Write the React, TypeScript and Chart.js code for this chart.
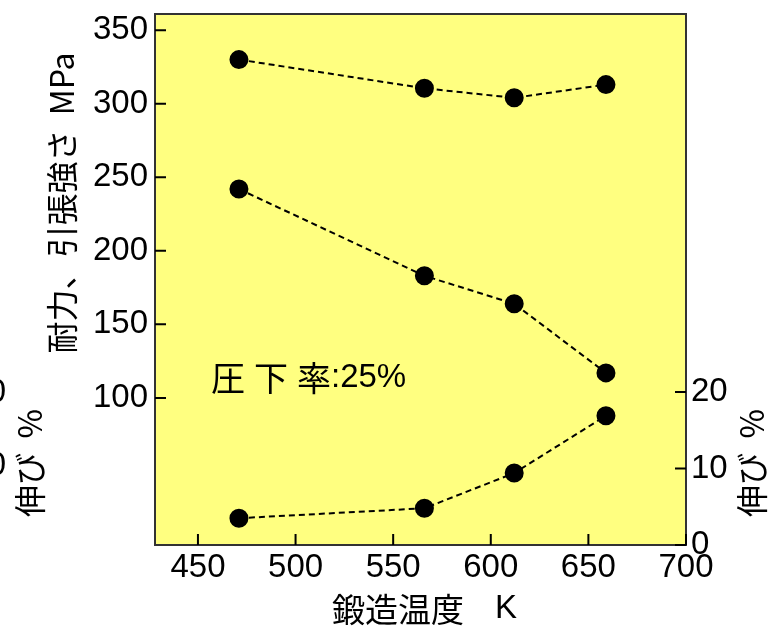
import React, { useEffect, useRef } from "react";
import { Chart, registerables } from "chart.js";

Chart.register(...registerables);

const temps = [471, 566, 612, 659];
const tensileStrength = [330, 310.5, 304, 313];
const proofStress = [242, 183, 164, 117];
const elongation = [3.5, 4.8, 9.4, 16.9];

const xTicks = [450, 500, 550, 600, 650, 700];
const leftTicks = [100, 150, 200, 250, 300, 350];
const rightTicks = [0, 10, 20];

const FONT = "'Liberation Sans', Arial, 'Noto Sans CJK JP', sans-serif";
const CJK = "'Noto Sans CJK JP', 'Liberation Sans', sans-serif";

const decor = {
  id: "decor",
  beforeDraw(chart: any) {
    const { ctx, chartArea: a } = chart;
    ctx.save();
    ctx.fillStyle = "#ffff80";
    ctx.fillRect(a.left, a.top, a.right - a.left, a.bottom - a.top);
    ctx.restore();
  },
  afterDraw(chart: any) {
    const { ctx, chartArea: a, scales } = chart;
    ctx.save();
    ctx.strokeStyle = "#333";
    ctx.lineWidth = 2;
    ctx.strokeRect(a.left, a.top, a.right - a.left, a.bottom - a.top);
    ctx.strokeStyle = "#000";
    ctx.lineWidth = 2;
    const tl = 11;
    ctx.beginPath();
    leftTicks.forEach((v) => {
      const y = scales.y.getPixelForValue(v);
      ctx.moveTo(a.left, y);
      ctx.lineTo(a.left + tl, y);
    });
    rightTicks.forEach((v) => {
      const y = scales.y2.getPixelForValue(v);
      ctx.moveTo(a.right, y);
      ctx.lineTo(a.right - tl, y);
    });
    xTicks.forEach((v) => {
      const x = scales.x.getPixelForValue(v);
      ctx.moveTo(x, a.bottom);
      ctx.lineTo(x, a.bottom - tl);
    });
    ctx.stroke();

    ctx.fillStyle = "#000";
    ctx.textBaseline = "middle";
    ctx.textAlign = "left";
    ctx.font = "34px " + CJK;
    (ctx as any).letterSpacing = "9px";
    ctx.fillText("圧下率", 211, 378);
    (ctx as any).letterSpacing = "0px";
    ctx.font = "33px " + FONT;
    ctx.fillText(":25%", 331, 378);

    ctx.font = "33px " + CJK;
    ctx.fillText("鍛造温度", 332, 609);
    ctx.font = "33px " + FONT;
    ctx.fillText("K", 495, 609);

    const rot = (txt: string, x: number, y: number) => {
      ctx.save();
      ctx.translate(x, y);
      ctx.rotate(-Math.PI / 2);
      ctx.textAlign = "center";
      ctx.textBaseline = "middle";
      ctx.fillText(txt, 0, 0);
      ctx.restore();
    };
    ctx.font = "32px " + CJK;
    rot("耐力、引張強さ  MPa", 62, 203);
    rot("伸び  %", 752, 463);
    rot("伸び  %", 30, 463);

    ctx.font = "33px " + FONT;
    ctx.textAlign = "right";
    ctx.fillText("20", 6, 393);
    ctx.fillText("10", 6, 466);
    ctx.restore();
  },
};

export default function App() {
  const ref = useRef<HTMLCanvasElement>(null);
  useEffect(() => {
    document.body.style.margin = "0";
    const tickFont = { family: FONT, size: 33 };
    const ds = (data: number[], axis: string) => ({
      data: temps.map((t, i) => ({ x: t, y: data[i] })),
      yAxisID: axis,
      borderColor: "#000",
      backgroundColor: "#000",
      borderWidth: 2,
      borderDash: [6, 4],
      pointRadius: 8.5,
      pointBackgroundColor: "#000",
      pointBorderColor: "#000",
      showLine: true,
      fill: false,
    });
    const chart = new Chart(ref.current!, {
      type: "scatter",
      data: {
        datasets: [
          ds(tensileStrength, "y"),
          ds(proofStress, "y"),
          ds(elongation, "y2"),
        ],
      },
      plugins: [decor],
      options: {
        animation: false,
        responsive: false,
        layout: { padding: { top: 14, left: 0, right: 0, bottom: 0 } },
        plugins: { legend: { display: false }, tooltip: { enabled: false } },
        scales: {
          x: {
            type: "linear",
            min: 428,
            max: 700,
            grid: { display: false, drawTicks: false },
            border: { display: false },
            ticks: { font: tickFont, color: "#000", padding: 3, maxRotation: 0 },
            afterBuildTicks: (s: any) => {
              s.ticks = xTicks.map((v) => ({ value: v }));
            },
            afterFit: (s: any) => {
              s.height = 82;
              s.paddingLeft = 0;
              s.paddingRight = 0;
            },
          },
          y: {
            type: "linear",
            position: "left",
            min: 0,
            max: 361,
            grid: { display: false, drawTicks: false },
            border: { display: false },
            ticks: { font: tickFont, color: "#000", padding: 7 },
            afterBuildTicks: (s: any) => {
              s.ticks = leftTicks.map((v) => ({ value: v }));
            },
            afterFit: (s: any) => {
              s.width = 155;
              s.paddingTop = 0;
              s.paddingBottom = 0;
            },
          },
          y2: {
            type: "linear",
            position: "right",
            min: 0,
            max: 69.4,
            grid: { display: false, drawTicks: false },
            border: { display: false },
            ticks: { font: tickFont, color: "#000", padding: 5 },
            afterBuildTicks: (s: any) => {
              s.ticks = rightTicks.map((v) => ({ value: v }));
            },
            afterFit: (s: any) => {
              s.width = 85;
              s.paddingTop = 0;
              s.paddingBottom = 0;
            },
          },
        },
      } as any,
    });
    return () => chart.destroy();
  }, []);
  return <canvas ref={ref} width={771} height={627} />;
}
